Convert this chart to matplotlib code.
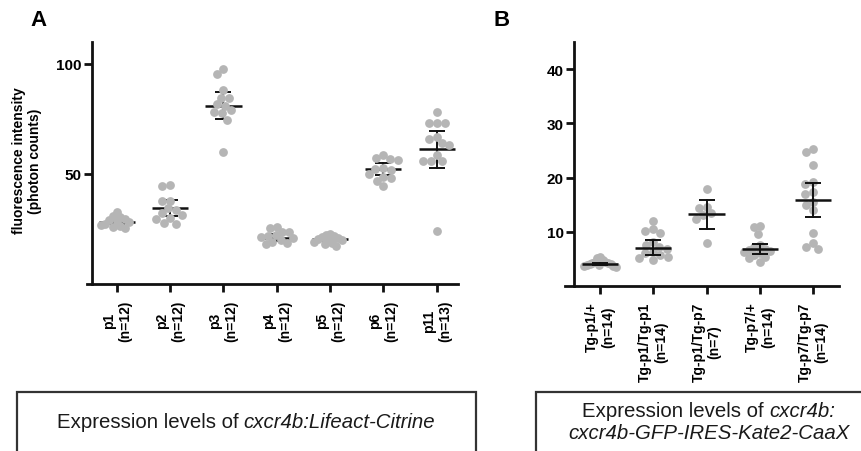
import numpy as np
import matplotlib
matplotlib.use("Agg")
import matplotlib.pyplot as plt
from matplotlib.patches import Rectangle

plt.rcParams['font.family'] = ['Liberation Sans', 'DejaVu Sans']

# panel A data
a_labels = ["p1\n(n=12)", "p2\n(n=12)", "p3\n(n=12)", "p4\n(n=12)",
            "p5\n(n=12)", "p6\n(n=12)", "p11\n(n=13)"]
a_values = [
    [31.0, 29.5, 28.5, 27.0, 25.5, 26.5, 28.0, 29.0, 30.5, 32.8, 27.5, 26.0],
    [44.5, 45.0, 37.9, 37.7, 34.4, 33.6, 32.1, 29.8, 29.5, 27.6, 27.1, 31.4],
    [97.6, 95.6, 88.2, 84.7, 84.4, 81.7, 81.1, 79.1, 78.3, 77.6, 74.5, 59.8],
    [25.3, 25.9, 23.8, 23.6, 22.0, 21.5, 20.8, 20.0, 19.2, 18.5, 18.0, 22.3],
    [22.8, 22.5, 21.5, 21.0, 20.5, 20.0, 19.5, 19.0, 18.5, 18.0, 17.2, 21.8],
    [58.6, 57.1, 56.7, 56.2, 52.6, 52.3, 50.0, 48.8, 48.0, 46.8, 44.5, 51.8],
    [78.4, 73.4, 73.4, 73.4, 66.8, 66.0, 63.2, 63.9, 58.6, 55.9, 55.9, 55.9, 24.1],
]
a_means = [28.3, 34.4, 81.1, 21.1, 20.5, 52.3, 61.2]
a_errs = [1.0, 3.7, 6.3, 1.5, 0.8, 2.8, 8.4]

# panel B data
b_labels = ["Tg-p1/+\n(n=14)", "Tg-p1/Tg-p1\n(n=14)", "Tg-p1/Tg-p7\n(n=7)",
            "Tg-p7/+\n(n=14)", "Tg-p7/Tg-p7\n(n=14)"]
b_values = [
    [5.3, 5.2, 4.8, 4.5, 4.3, 4.1, 4.0, 3.9, 3.8, 3.7, 3.6, 3.5, 4.2, 4.4],
    [12.0, 10.2, 10.5, 9.7, 8.2, 7.5, 7.2, 6.9, 6.3, 6.0, 5.7, 5.4, 5.1, 4.8],
    [17.9, 14.3, 14.6, 13.4, 13.1, 12.4, 8.0],
    [10.9, 11.0, 9.6, 7.5, 7.2, 6.6, 6.5, 6.2, 6.0, 5.7, 5.4, 5.1, 4.5, 6.9],
    [25.3, 24.7, 22.3, 19.2, 18.9, 17.3, 17.0, 15.5, 14.9, 14.0, 9.7, 8.0, 7.2, 6.8],
]
b_means = [4.0, 7.1, 13.2, 6.8, 15.8]
b_errs = [0.2, 1.35, 2.7, 0.95, 3.15]

DOT = '#b5b5b5'
INK = '#111111'


def swarm(vals, ppx, ppy, d=8.0, maxw=0.3):
    # simple beeswarm: place each point as close to the centre as it can go
    order = np.argsort(vals)[::-1]
    placed = []
    offs = np.zeros(len(vals))
    for i in order:
        y = vals[i] * ppy
        cands = [0.0]
        for (px, py) in placed:
            dy = y - py
            if abs(dy) < d:
                dx = np.sqrt(d * d - dy * dy)
                cands += [px + dx, px - dx]
        cands.sort(key=lambda c: (abs(c), c))
        for c in cands:
            if all((c - px) ** 2 + (y - py) ** 2 >= d * d - 1e-6 for (px, py) in placed):
                offs[i] = c
                placed.append((c, y))
                break
    offs = offs / ppx
    wide = np.abs(offs).max()
    if wide > maxw:
        offs *= maxw / wide
    return offs


def panel(ax, labels, values, means, errs, xlim, ylim, spine_x, yticks, dots_on_top):
    ax.set_xlim(*xlim)
    ax.set_ylim(*ylim)
    fig.canvas.draw()
    p0 = ax.transData.transform((0, 0))
    p1 = ax.transData.transform((1, 1))
    ppx, ppy = p1 - p0
    zd, zl = (3, 2) if dots_on_top else (2, 3)
    for i, vals in enumerate(values):
        v = np.array(vals)
        ax.scatter(i + swarm(v, ppx, ppy), v, s=40, color=DOT, lw=0, zorder=zd)
        m, e = means[i], errs[i]
        ax.plot([i - 0.34, i + 0.34], [m, m], color=INK, lw=1.8, zorder=zl,
                solid_capstyle='butt')
        ax.plot([i, i], [m - e, m + e], color=INK, lw=1.4, zorder=zl)
        for yy in (m - e, m + e):
            ax.plot([i - 0.15, i + 0.15], [yy, yy], color=INK, lw=1.4, zorder=zl,
                    solid_capstyle='butt')
    for s in ('top', 'right'):
        ax.spines[s].set_visible(False)
    for s in ('left', 'bottom'):
        ax.spines[s].set_linewidth(2.0)
        ax.spines[s].set_color(INK)
    ax.spines['left'].set_position(('data', spine_x))
    ax.set_xticks(range(len(labels)))
    ax.set_xticklabels(labels, rotation=90, fontsize=10, fontweight='bold',
                       multialignment='center', va='top', ha='center')
    ax.set_yticks(yticks)
    ax.set_yticklabels([str(t) for t in yticks], fontsize=11, fontweight='bold')
    ax.tick_params(axis='x', length=6, width=2, pad=5, color=INK)
    ax.tick_params(axis='y', length=5.5, width=2, pad=2, color=INK)


fig = plt.figure(figsize=(8.62, 4.52), dpi=100)
axA = fig.add_axes([87 / 862, 1 - 285 / 452, 371 / 862, 242 / 452])
axB = fig.add_axes([565 / 862, 1 - 287 / 452, 274 / 862, 244 / 452])

panel(axA, a_labels, a_values, a_means, a_errs, (-0.56, 6.4), (0, 110), -0.47,
      [50, 100], True)
panel(axB, b_labels, b_values, b_means, b_errs, (-0.66, 4.49), (0, 45), -0.49,
      [10, 20, 30, 40], False)

axA.set_ylabel("fluorescence intensity\n(photon counts)", fontsize=10,
               fontweight='bold', multialignment='center', va='center', ha='center')
axA.yaxis.set_label_coords(-0.162, 0.512)

fig.text(39 / 862, 1 - 20 / 452, "A", fontsize=16, fontweight='bold', ha='center', va='center')
fig.text(502 / 862, 1 - 20 / 452, "B", fontsize=16, fontweight='bold', ha='center', va='center')

# caption boxes
for x0, x1 in ((17, 476), (536, 880)):
    fig.patches.append(Rectangle((x0 / 862, -0.02), (x1 - x0) / 862, 0.02 + 59 / 452,
                                 transform=fig.transFigure, fill=False,
                                 lw=1.6, ec='#333333'))

W = 862


def rich_line(xc, y, parts, size=14.7):
    texts = [fig.text(0, y, s, fontsize=size, style=st, va='center', ha='left',
                      color='#1a1a1a') for s, st in parts]
    r = fig.canvas.get_renderer()
    widths = [t.get_window_extent(r).width for t in texts]
    x = xc - sum(widths) / 2
    for t, w in zip(texts, widths):
        t.set_x(x / W)
        x += w


rich_line(246, 1 - 423 / 452, [("Expression levels of ", 'normal'),
                               ("cxcr4b:Lifeact-Citrine", 'italic')])
rich_line(709, 1 - 412 / 452, [("Expression levels of ", 'normal'),
                               ("cxcr4b:", 'italic')])
rich_line(709, 1 - 434 / 452, [("cxcr4b-GFP-IRES-Kate2-CaaX", 'italic')])

fig.savefig("out.png", dpi=100)
